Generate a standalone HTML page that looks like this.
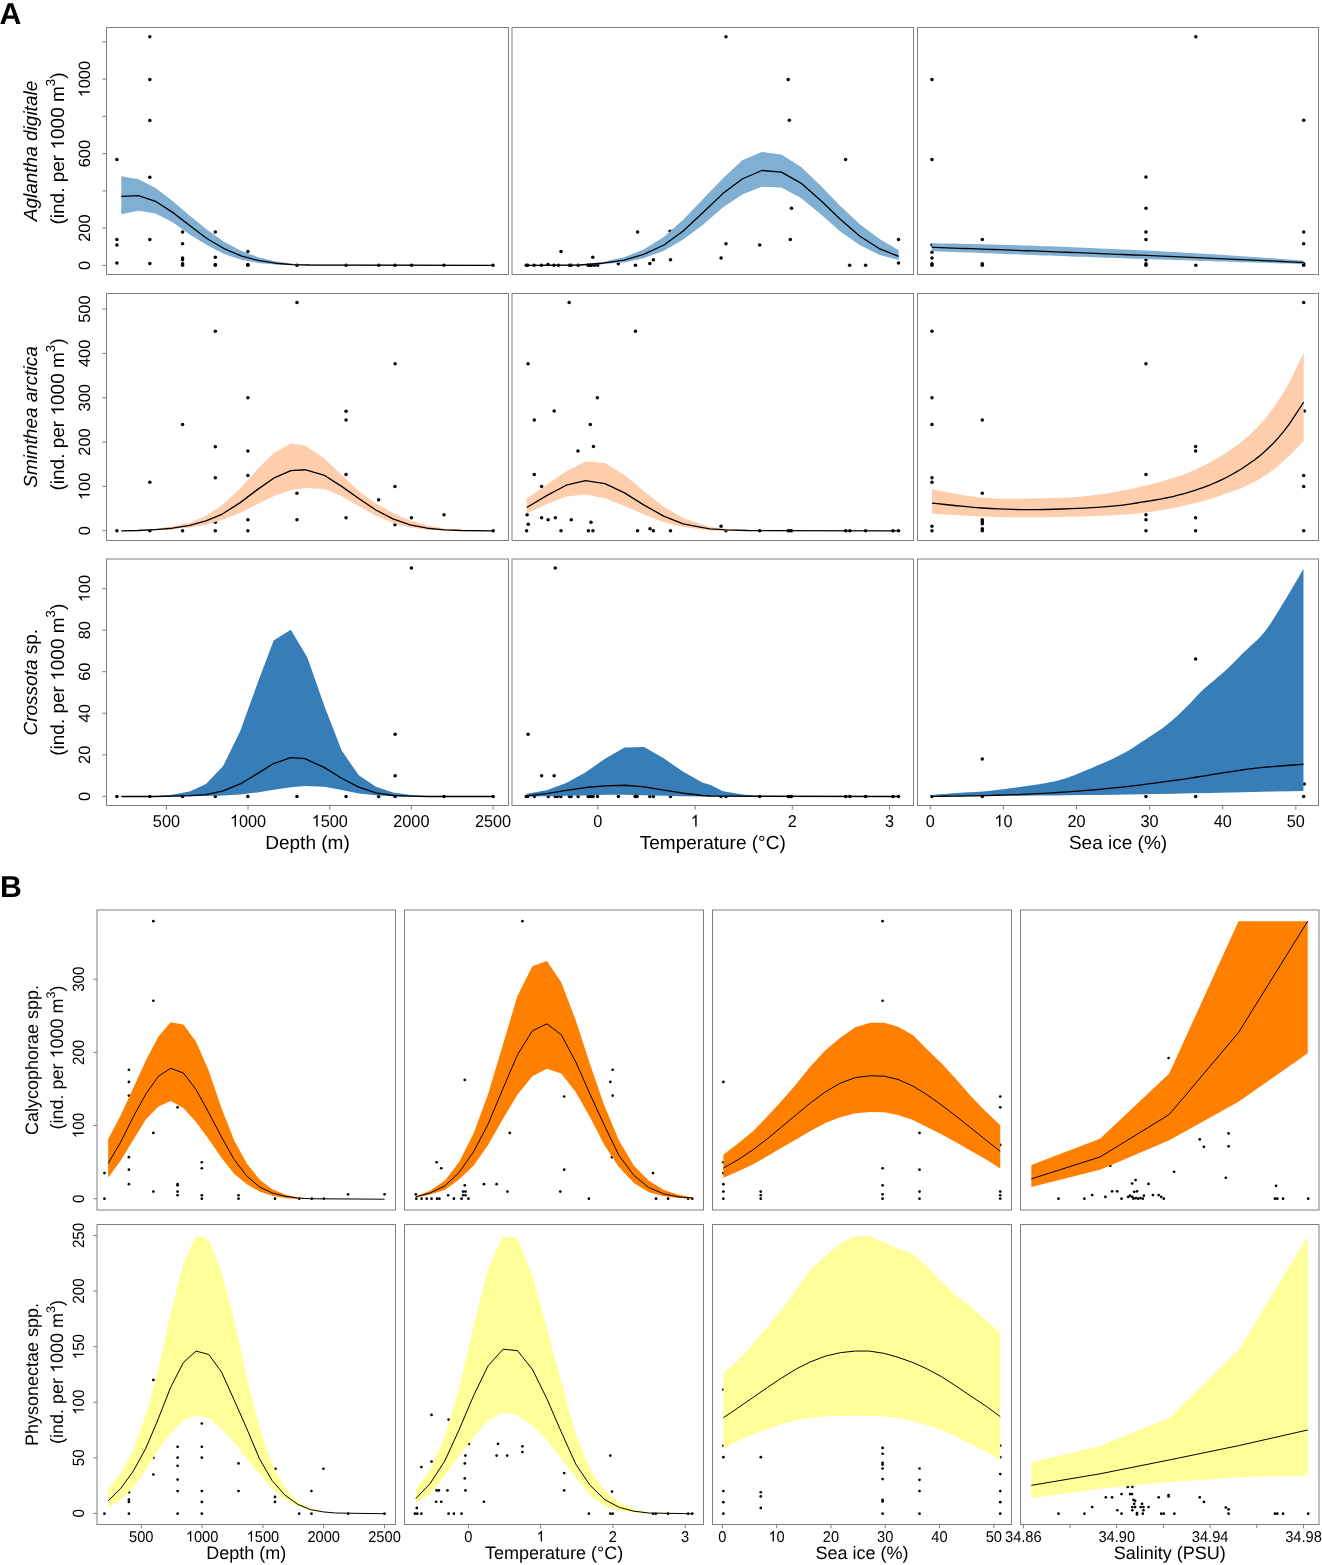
<!DOCTYPE html>
<html><head><meta charset="utf-8"><title>Figure</title>
<style>html,body{margin:0;padding:0;background:#fff;overflow:hidden;}svg{display:block;}text{font-family:"Liberation Sans",sans-serif;fill:#000;}svg{will-change:transform;text-rendering:geometricPrecision;}</style>
</head><body>
<svg width="1322" height="1565" viewBox="0 0 1322 1565">
<rect x="0" y="0" width="1322" height="1565" fill="#fff"/>
<clipPath id="cA11"><rect x="106.5" y="27.5" width="402" height="247"/></clipPath>
<g clip-path="url(#cA11)">
<circle cx="116.9" cy="159.43" r="1.75"/>
<circle cx="116.9" cy="239.44" r="1.75"/>
<circle cx="116.9" cy="244.98" r="1.75"/>
<circle cx="116.9" cy="263.06" r="1.75"/>
<circle cx="149.81" cy="36.73" r="1.75"/>
<circle cx="149.81" cy="79.59" r="1.75"/>
<circle cx="149.81" cy="120.49" r="1.75"/>
<circle cx="149.81" cy="177.19" r="1.75"/>
<circle cx="149.81" cy="239.44" r="1.75"/>
<circle cx="149.81" cy="263.55" r="1.75"/>
<circle cx="182.56" cy="231.94" r="1.75"/>
<circle cx="182.56" cy="243.84" r="1.75"/>
<circle cx="182.56" cy="258.01" r="1.75"/>
<circle cx="182.56" cy="259.64" r="1.75"/>
<circle cx="182.56" cy="263.72" r="1.75"/>
<circle cx="182.56" cy="265.35" r="1.75"/>
<circle cx="215.31" cy="231.94" r="1.75"/>
<circle cx="215.31" cy="257.36" r="1.75"/>
<circle cx="215.31" cy="264.53" r="1.75"/>
<circle cx="215.31" cy="265.35" r="1.75"/>
<circle cx="247.9" cy="251.5" r="1.75"/>
<circle cx="247.9" cy="264.53" r="1.75"/>
<circle cx="247.9" cy="265.35" r="1.75"/>
<circle cx="296.95" cy="265.35" r="1.75"/>
<circle cx="346.07" cy="265.29" r="1.75"/>
<circle cx="378.79" cy="265.29" r="1.75"/>
<circle cx="395" cy="265.29" r="1.75"/>
<circle cx="411.52" cy="265.29" r="1.75"/>
<circle cx="443.92" cy="265.29" r="1.75"/>
<circle cx="493.01" cy="265.29" r="1.75"/>
<polygon points="121.29,176.21 138.4,179.15 155.51,187.95 172.62,200.98 189.73,215.65 206.84,229.5 223.95,241.72 241.06,250.68 258.17,257.2 275.28,261.27 292.39,263.72 309.99,264.53 493,265.3 493,265.3 309.99,265.35 292.39,265.02 275.28,264.53 258.17,262.9 241.06,259.64 223.95,253.94 206.84,244.98 189.73,234.39 172.62,222.16 155.51,213.53 138.4,210.76 121.29,214.34" fill="#7FAFD3" stroke="none"/>
<polyline points="121.29,196.42 138.4,195.6 155.51,201.31 172.62,212.39 189.73,225.42 206.84,238.46 223.95,248.56 241.06,255.89 258.17,260.46 275.28,263.23 292.39,264.53 309.99,265.02 493,265.3" fill="none" stroke="#000" stroke-width="1.3" stroke-linejoin="round"/>
</g>
<clipPath id="cA12"><rect x="512" y="27.5" width="401.5" height="247"/></clipPath>
<g clip-path="url(#cA12)">
<circle cx="526.29" cy="265.35" r="1.75"/>
<circle cx="527.6" cy="265.35" r="1.75"/>
<circle cx="534.12" cy="265.35" r="1.75"/>
<circle cx="541.45" cy="265.35" r="1.75"/>
<circle cx="547.97" cy="264.53" r="1.75"/>
<circle cx="554" cy="265.35" r="1.75"/>
<circle cx="558.56" cy="265.35" r="1.75"/>
<circle cx="561" cy="251.5" r="1.75"/>
<circle cx="569.48" cy="265.35" r="1.75"/>
<circle cx="571.1" cy="265.35" r="1.75"/>
<circle cx="578.11" cy="265.35" r="1.75"/>
<circle cx="588.21" cy="265.35" r="1.75"/>
<circle cx="589.84" cy="265.35" r="1.75"/>
<circle cx="591.47" cy="265.35" r="1.75"/>
<circle cx="592.78" cy="257.2" r="1.75"/>
<circle cx="594.41" cy="265.35" r="1.75"/>
<circle cx="597.66" cy="265.35" r="1.75"/>
<circle cx="618.36" cy="263.72" r="1.75"/>
<circle cx="635.47" cy="265.35" r="1.75"/>
<circle cx="637.59" cy="231.94" r="1.75"/>
<circle cx="649.81" cy="263.39" r="1.75"/>
<circle cx="653.39" cy="259.64" r="1.75"/>
<circle cx="670.5" cy="259.64" r="1.75"/>
<circle cx="670.18" cy="231.13" r="1.75"/>
<circle cx="725.97" cy="36.73" r="1.75"/>
<circle cx="788.21" cy="79.59" r="1.75"/>
<circle cx="789.35" cy="120.32" r="1.75"/>
<circle cx="845.57" cy="159.43" r="1.75"/>
<circle cx="791.47" cy="208.31" r="1.75"/>
<circle cx="725.97" cy="243.84" r="1.75"/>
<circle cx="759.7" cy="244.98" r="1.75"/>
<circle cx="790.33" cy="239.44" r="1.75"/>
<circle cx="721.08" cy="258.01" r="1.75"/>
<circle cx="898.53" cy="239.44" r="1.75"/>
<circle cx="849.64" cy="265.35" r="1.75"/>
<circle cx="865.61" cy="265.35" r="1.75"/>
<circle cx="898.53" cy="262.9" r="1.75"/>
<polygon points="525.48,265.35 580.07,264.53 602.88,262.09 624.06,257.2 643.62,249.54 663.98,236.83 683.2,219.8 703,199.1 722.8,178.4 742.26,160.25 761.82,152.1 781.37,154.54 800.92,166.76 820.48,185.5 840.03,205.87 859.58,224.12 879.14,238.79 898.69,250.19 898.69,259.97 879.14,254.75 859.58,244.98 840.03,231.13 820.48,214.02 800.92,198.05 781.37,187.46 761.82,186.81 742.26,194.46 722.8,207.5 703,224.8 683.2,239.4 663.98,250.68 643.62,258.34 624.06,262.58 602.88,264.04 580.07,265.35 525.48,265.35" fill="#7FAFD3" stroke="none"/>
<polyline points="525.48,265.35 580.07,265.02 602.88,263.23 624.06,260.13 643.62,254.43 663.98,244.98 683.2,231 703,212.5 722.8,193.6 742.26,178.98 761.82,170.51 781.37,172.14 800.92,183.06 820.48,200.17 840.03,218.91 859.58,236.02 879.14,248.56 898.69,256.38" fill="none" stroke="#000" stroke-width="1.3" stroke-linejoin="round"/>
</g>
<clipPath id="cA13"><rect x="917.5" y="27.5" width="401" height="247"/></clipPath>
<g clip-path="url(#cA13)">
<circle cx="931.95" cy="79.59" r="1.75"/>
<circle cx="931.95" cy="159.43" r="1.75"/>
<circle cx="931.95" cy="244.98" r="1.75"/>
<circle cx="931.95" cy="252.31" r="1.75"/>
<circle cx="931.95" cy="258.01" r="1.75"/>
<circle cx="931.95" cy="263.72" r="1.75"/>
<circle cx="931.95" cy="265.35" r="1.75"/>
<circle cx="982.3" cy="239.44" r="1.75"/>
<circle cx="982.3" cy="263.72" r="1.75"/>
<circle cx="982.3" cy="265.35" r="1.75"/>
<circle cx="1195.82" cy="36.73" r="1.75"/>
<circle cx="1303.69" cy="120.32" r="1.75"/>
<circle cx="1145.96" cy="177.03" r="1.75"/>
<circle cx="1145.96" cy="208.31" r="1.75"/>
<circle cx="1145.96" cy="231.94" r="1.75"/>
<circle cx="1145.96" cy="239.44" r="1.75"/>
<circle cx="1145.96" cy="259.64" r="1.75"/>
<circle cx="1145.96" cy="263.72" r="1.75"/>
<circle cx="1145.96" cy="265.35" r="1.75"/>
<circle cx="1195.82" cy="265.35" r="1.75"/>
<circle cx="1303.69" cy="231.94" r="1.75"/>
<circle cx="1303.69" cy="243.84" r="1.75"/>
<circle cx="1303.69" cy="263.72" r="1.75"/>
<circle cx="1303.69" cy="265.35" r="1.75"/>
<polygon points="931.8,243.21 935.48,243.28 940.56,243.38 946.59,243.49 953.08,243.62 959.58,243.75 965.6,243.88 971.23,244.01 976.87,244.14 982.51,244.28 988.14,244.43 993.77,244.58 999.4,244.73 1005.02,244.89 1010.64,245.06 1016.25,245.23 1021.86,245.4 1027.48,245.58 1033.1,245.77 1038.73,245.96 1044.36,246.15 1049.99,246.35 1055.63,246.56 1061.27,246.77 1066.9,246.98 1072.53,247.2 1078.17,247.43 1083.8,247.66 1089.43,247.89 1095.07,248.13 1100.7,248.38 1106.33,248.63 1111.97,248.89 1117.6,249.15 1123.23,249.41 1128.87,249.68 1134.5,249.96 1140.13,250.24 1145.77,250.53 1151.4,250.82 1157.03,251.11 1162.67,251.41 1168.3,251.72 1173.93,252.03 1179.57,252.35 1185.21,252.67 1190.84,252.99 1196.47,253.32 1202.1,253.66 1207.72,254 1213.34,254.35 1218.95,254.7 1224.56,255.06 1230.18,255.42 1235.8,255.79 1241.43,256.16 1247.06,256.54 1252.69,256.92 1258.33,257.3 1263.97,257.69 1269.6,258.09 1275.62,258.52 1282.12,259 1288.61,259.48 1294.64,259.93 1299.72,260.31 1303.4,260.58 1303.4,264.05 1299.72,263.94 1294.64,263.79 1288.61,263.61 1282.12,263.41 1275.62,263.21 1269.6,263.03 1263.97,262.86 1258.33,262.68 1252.69,262.51 1247.06,262.33 1241.43,262.16 1235.8,261.98 1230.18,261.8 1224.56,261.62 1218.95,261.44 1213.34,261.26 1207.72,261.08 1202.1,260.9 1196.47,260.72 1190.84,260.53 1185.21,260.34 1179.57,260.16 1173.93,259.97 1168.3,259.78 1162.67,259.59 1157.03,259.4 1151.4,259.21 1145.77,259.02 1140.13,258.82 1134.5,258.63 1128.87,258.44 1123.23,258.24 1117.6,258.04 1111.97,257.85 1106.33,257.65 1100.7,257.45 1095.07,257.25 1089.43,257.05 1083.8,256.84 1078.17,256.64 1072.53,256.44 1066.9,256.23 1061.27,256.02 1055.63,255.82 1049.99,255.61 1044.36,255.4 1038.73,255.19 1033.1,254.98 1027.48,254.77 1021.86,254.56 1016.25,254.34 1010.64,254.13 1005.02,253.92 999.4,253.7 993.77,253.48 988.14,253.27 982.51,253.05 976.87,252.83 971.23,252.61 965.6,252.39 959.58,252.15 953.08,251.89 946.59,251.63 940.56,251.39 935.48,251.19 931.8,251.04" fill="#7FAFD3" stroke="none"/>
<polyline points="931.8,247.32 935.48,247.45 940.56,247.62 946.59,247.83 953.08,248.05 959.58,248.28 965.6,248.49 971.23,248.69 976.87,248.89 982.51,249.09 988.14,249.3 993.77,249.5 999.4,249.71 1005.02,249.92 1010.64,250.12 1016.25,250.33 1021.86,250.54 1027.48,250.75 1033.1,250.96 1038.73,251.17 1044.36,251.39 1049.99,251.6 1055.63,251.82 1061.27,252.04 1066.9,252.26 1072.53,252.48 1078.17,252.7 1083.8,252.93 1089.43,253.15 1095.07,253.37 1100.7,253.6 1106.33,253.83 1111.97,254.06 1117.6,254.28 1123.23,254.51 1128.87,254.75 1134.5,254.98 1140.13,255.22 1145.77,255.45 1151.4,255.69 1157.03,255.93 1162.67,256.17 1168.3,256.41 1173.93,256.65 1179.57,256.89 1185.21,257.13 1190.84,257.38 1196.47,257.62 1202.1,257.87 1207.72,258.12 1213.34,258.37 1218.95,258.62 1224.56,258.87 1230.18,259.13 1235.8,259.38 1241.43,259.64 1247.06,259.89 1252.69,260.15 1258.33,260.41 1263.97,260.67 1269.6,260.93 1275.62,261.21 1282.12,261.52 1288.61,261.82 1294.64,262.11 1299.72,262.35 1303.4,262.52" fill="none" stroke="#000" stroke-width="1.3" stroke-linejoin="round"/>
</g>
<clipPath id="cA21"><rect x="106.5" y="293.5" width="402" height="247"/></clipPath>
<g clip-path="url(#cA21)">
<circle cx="116.9" cy="530.83" r="1.75"/>
<circle cx="149.81" cy="530.83" r="1.75"/>
<circle cx="149.81" cy="482.28" r="1.75"/>
<circle cx="182.56" cy="530.83" r="1.75"/>
<circle cx="182.56" cy="424.43" r="1.75"/>
<circle cx="215.31" cy="331.23" r="1.75"/>
<circle cx="215.31" cy="446.75" r="1.75"/>
<circle cx="215.31" cy="477.71" r="1.75"/>
<circle cx="215.31" cy="522.2" r="1.75"/>
<circle cx="215.31" cy="530.83" r="1.75"/>
<circle cx="247.9" cy="397.71" r="1.75"/>
<circle cx="247.9" cy="450.99" r="1.75"/>
<circle cx="247.9" cy="475.43" r="1.75"/>
<circle cx="247.9" cy="519.75" r="1.75"/>
<circle cx="247.9" cy="530.83" r="1.75"/>
<circle cx="296.95" cy="302.38" r="1.75"/>
<circle cx="296.95" cy="493.19" r="1.75"/>
<circle cx="296.95" cy="519.75" r="1.75"/>
<circle cx="395.11" cy="363.65" r="1.75"/>
<circle cx="346.06" cy="411.23" r="1.75"/>
<circle cx="346.06" cy="420.03" r="1.75"/>
<circle cx="346.06" cy="474.62" r="1.75"/>
<circle cx="394.95" cy="486.51" r="1.75"/>
<circle cx="378.65" cy="499.87" r="1.75"/>
<circle cx="346.06" cy="517.64" r="1.75"/>
<circle cx="411.4" cy="517.64" r="1.75"/>
<circle cx="443.99" cy="514.87" r="1.75"/>
<circle cx="394.95" cy="524.64" r="1.75"/>
<circle cx="493.2" cy="530.83" r="1.75"/>
<polygon points="121.29,530.83 137.59,530.35 155.51,528.72 172.62,526.27 189.73,522.69 206.03,515.68 222.32,505.09 240.25,488.47 257.35,469.24 273.65,452.95 290.76,443.5 305,445.61 324.55,458.65 341.66,474.94 358.77,491.24 375.88,503.46 392.99,512.91 410.1,520.57 427.21,525.46 444.32,528.39 461.43,529.86 493.2,530.83 493.2,530.83 461.43,530.67 444.32,530.35 427.21,529.53 410.1,527.58 392.99,523.01 375.88,515.68 358.77,505.9 341.66,496.13 324.55,489.12 305,487.98 290.76,490.1 273.65,496.13 257.35,504.27 240.25,512.91 222.32,519.75 206.03,524.64 189.73,527.58 172.62,529.2 155.51,530.02 137.59,530.67 121.29,530.83" fill="#FDCDAC" stroke="none"/>
<polyline points="121.29,530.83 137.59,530.51 155.51,529.53 172.62,528.23 189.73,525.46 206.03,520.89 222.32,514.05 240.25,502.64 257.35,489.61 273.65,478.2 290.76,470.54 305,469.73 324.55,475.43 341.66,486.35 358.77,498.57 375.88,509.98 392.99,518.94 410.1,524.97 427.21,528.23 444.32,529.86 461.43,530.51 493.2,530.83" fill="none" stroke="#000" stroke-width="1.3" stroke-linejoin="round"/>
</g>
<clipPath id="cA22"><rect x="512" y="293.5" width="401.5" height="247"/></clipPath>
<g clip-path="url(#cA22)">
<circle cx="569.15" cy="302.38" r="1.75"/>
<circle cx="635.47" cy="331.23" r="1.75"/>
<circle cx="528.09" cy="363.65" r="1.75"/>
<circle cx="597.34" cy="397.71" r="1.75"/>
<circle cx="554.16" cy="411.07" r="1.75"/>
<circle cx="534.28" cy="420.03" r="1.75"/>
<circle cx="590.33" cy="424.43" r="1.75"/>
<circle cx="593.43" cy="446.59" r="1.75"/>
<circle cx="577.95" cy="450.99" r="1.75"/>
<circle cx="534.28" cy="474.62" r="1.75"/>
<circle cx="541.61" cy="486.51" r="1.75"/>
<circle cx="527.11" cy="514.87" r="1.75"/>
<circle cx="541.61" cy="517.64" r="1.75"/>
<circle cx="548.13" cy="519.75" r="1.75"/>
<circle cx="555.3" cy="517.64" r="1.75"/>
<circle cx="571.27" cy="519.75" r="1.75"/>
<circle cx="590.98" cy="522.2" r="1.75"/>
<circle cx="528.25" cy="524.32" r="1.75"/>
<circle cx="526.62" cy="530.83" r="1.75"/>
<circle cx="561" cy="530.83" r="1.75"/>
<circle cx="588.38" cy="530.83" r="1.75"/>
<circle cx="592.94" cy="530.83" r="1.75"/>
<circle cx="637.59" cy="530.83" r="1.75"/>
<circle cx="649.97" cy="528.72" r="1.75"/>
<circle cx="653.39" cy="530.83" r="1.75"/>
<circle cx="670.5" cy="530.83" r="1.75"/>
<circle cx="721.08" cy="526.27" r="1.75"/>
<circle cx="725.97" cy="530.83" r="1.75"/>
<circle cx="759.7" cy="530.83" r="1.75"/>
<circle cx="788.21" cy="530.83" r="1.75"/>
<circle cx="789.84" cy="530.83" r="1.75"/>
<circle cx="791.47" cy="530.83" r="1.75"/>
<circle cx="845.73" cy="530.83" r="1.75"/>
<circle cx="849.81" cy="530.83" r="1.75"/>
<circle cx="865.61" cy="530.83" r="1.75"/>
<circle cx="892.99" cy="530.83" r="1.75"/>
<circle cx="898.53" cy="530.83" r="1.75"/>
<polygon points="526.78,498.57 546.66,484.72 566.22,471.2 585.44,461.42 605,463.05 624.55,474.94 644.1,491.24 663.66,506.72 683.21,518.12 702.77,524.64 710,527.09 726.29,528.88 747.48,530.18 898.53,530.83 898.53,530.83 747.48,530.83 726.29,530.67 710,530.51 702.77,529.53 683.21,527.09 663.66,522.2 644.1,514.54 624.55,505.9 605,498.25 585.44,494.5 566.22,496.62 546.66,504.27 526.78,513.56" fill="#FDCDAC" stroke="none"/>
<polyline points="526.78,507.53 546.66,495.64 566.22,485.21 585.44,480.65 605,483.58 624.55,492.87 644.1,505.09 663.66,516.17 683.21,523.83 702.77,527.58 710,528.88 726.29,529.86 747.48,530.51 898.53,530.83" fill="none" stroke="#000" stroke-width="1.3" stroke-linejoin="round"/>
</g>
<clipPath id="cA23"><rect x="917.5" y="293.5" width="401" height="247"/></clipPath>
<g clip-path="url(#cA23)">
<circle cx="931.95" cy="331.23" r="1.75"/>
<circle cx="931.95" cy="397.71" r="1.75"/>
<circle cx="931.95" cy="424.43" r="1.75"/>
<circle cx="982.3" cy="420.03" r="1.75"/>
<circle cx="931.95" cy="477.71" r="1.75"/>
<circle cx="931.95" cy="482.28" r="1.75"/>
<circle cx="982.3" cy="493.19" r="1.75"/>
<circle cx="982.3" cy="519.75" r="1.75"/>
<circle cx="982.3" cy="521.71" r="1.75"/>
<circle cx="982.3" cy="523.83" r="1.75"/>
<circle cx="982.3" cy="528.72" r="1.75"/>
<circle cx="982.3" cy="530.83" r="1.75"/>
<circle cx="931.95" cy="526.27" r="1.75"/>
<circle cx="931.95" cy="530.83" r="1.75"/>
<circle cx="1303.69" cy="302.38" r="1.75"/>
<circle cx="1145.96" cy="363.65" r="1.75"/>
<circle cx="1195.66" cy="446.59" r="1.75"/>
<circle cx="1195.66" cy="450.99" r="1.75"/>
<circle cx="1304.34" cy="411.07" r="1.75"/>
<circle cx="1145.96" cy="474.62" r="1.75"/>
<circle cx="1303.69" cy="475.43" r="1.75"/>
<circle cx="1303.69" cy="486.51" r="1.75"/>
<circle cx="1145.96" cy="514.87" r="1.75"/>
<circle cx="1145.96" cy="519.75" r="1.75"/>
<circle cx="1195.66" cy="517.64" r="1.75"/>
<circle cx="1145.96" cy="530.83" r="1.75"/>
<circle cx="1195.66" cy="530.83" r="1.75"/>
<circle cx="1303.69" cy="530.83" r="1.75"/>
<polygon points="931.95,489.12 937.47,490.15 945.13,491.65 954.2,493.39 963.91,495.14 973.53,496.67 982.3,497.76 990.27,498.37 998.07,498.7 1005.77,498.81 1013.45,498.77 1021.19,498.67 1029.06,498.57 1037.22,498.48 1045.64,498.33 1054.11,498.11 1062.45,497.82 1070.46,497.43 1077.95,496.94 1084.88,496.33 1091.4,495.61 1097.59,494.8 1103.54,493.92 1109.31,493 1115,492.05 1120.63,491.05 1126.13,489.97 1131.47,488.85 1136.59,487.71 1141.44,486.59 1145.96,485.54 1150.07,484.55 1153.81,483.6 1157.26,482.68 1160.56,481.76 1163.82,480.82 1167.14,479.83 1170.5,478.82 1173.78,477.81 1177.02,476.78 1180.24,475.7 1183.46,474.55 1186.7,473.31 1189.96,471.99 1193.21,470.6 1196.47,469.14 1199.73,467.61 1202.99,466.02 1206.25,464.35 1209.51,462.63 1212.77,460.84 1216.03,458.99 1219.29,457.06 1222.54,455.05 1225.8,452.95 1229.06,450.79 1232.32,448.59 1235.58,446.31 1238.84,443.91 1242.1,441.35 1245.36,438.61 1248.62,435.7 1251.87,432.68 1255.13,429.5 1258.39,426.14 1261.65,422.56 1264.91,418.73 1268.17,414.69 1271.44,410.47 1274.71,406.03 1277.97,401.33 1281.22,396.35 1284.46,391.03 1287.91,384.81 1291.61,377.63 1295.3,370.15 1298.72,363.05 1301.6,357.02 1303.69,352.73 1303.69,441.21 1301.6,443.33 1298.72,446.29 1295.3,449.78 1291.61,453.48 1287.91,457.09 1284.46,460.28 1281.22,463.12 1277.97,465.89 1274.71,468.55 1271.44,471.09 1268.17,473.5 1264.91,475.76 1261.65,477.84 1258.39,479.77 1255.13,481.56 1251.87,483.24 1248.62,484.83 1245.36,486.35 1242.1,487.77 1238.84,489.07 1235.58,490.27 1232.32,491.42 1229.06,492.55 1225.8,493.68 1222.54,494.83 1219.29,495.98 1216.03,497.09 1212.77,498.18 1209.51,499.22 1206.25,500.2 1202.99,501.12 1199.73,501.98 1196.47,502.8 1193.21,503.58 1189.96,504.34 1186.7,505.09 1183.46,505.82 1180.24,506.54 1177.02,507.23 1173.78,507.9 1170.5,508.54 1167.14,509.16 1163.82,509.76 1160.56,510.33 1157.26,510.87 1153.81,511.4 1150.07,511.92 1145.96,512.42 1141.44,512.93 1136.59,513.44 1131.47,513.93 1126.13,514.39 1120.63,514.82 1115,515.19 1109.31,515.5 1103.54,515.75 1097.59,515.97 1091.4,516.15 1084.88,516.32 1077.95,516.5 1070.46,516.68 1062.45,516.86 1054.11,517.03 1045.64,517.18 1037.22,517.27 1029.06,517.31 1021.19,517.29 1013.45,517.24 1005.77,517.14 998.07,516.98 990.27,516.77 982.3,516.5 973.53,516.09 963.91,515.57 954.2,514.98 945.13,514.4 937.47,513.91 931.95,513.56" fill="#FDCDAC" stroke="none"/>
<polyline points="931.95,503.13 937.47,503.7 945.13,504.52 954.2,505.48 963.91,506.45 973.53,507.34 982.3,508.02 990.27,508.52 998.07,508.92 1005.77,509.22 1013.45,509.45 1021.19,509.59 1029.06,509.65 1037.22,509.62 1045.64,509.48 1054.11,509.25 1062.45,508.98 1070.46,508.66 1077.95,508.35 1084.88,508.03 1091.4,507.69 1097.59,507.32 1103.54,506.91 1109.31,506.44 1115,505.9 1120.63,505.28 1126.13,504.56 1131.47,503.79 1136.59,502.99 1141.44,502.22 1145.96,501.5 1150.07,500.85 1153.81,500.25 1157.26,499.66 1160.56,499.07 1163.82,498.44 1167.14,497.76 1170.5,497.03 1173.78,496.27 1177.02,495.49 1180.24,494.66 1183.46,493.79 1186.7,492.87 1189.96,491.9 1193.21,490.89 1196.47,489.84 1199.73,488.74 1202.99,487.58 1206.25,486.35 1209.51,485.07 1212.77,483.73 1216.03,482.34 1219.29,480.88 1222.54,479.34 1225.8,477.71 1229.06,476.01 1232.32,474.25 1235.58,472.41 1238.84,470.48 1242.1,468.45 1245.36,466.31 1248.62,464.08 1251.87,461.79 1255.13,459.4 1258.39,456.88 1261.65,454.2 1264.91,451.32 1268.17,448.27 1271.44,445.08 1274.71,441.72 1277.97,438.18 1281.22,434.44 1284.46,430.46 1287.91,425.84 1291.61,420.51 1295.3,414.98 1298.72,409.74 1301.6,405.28 1303.69,402.11" fill="none" stroke="#000" stroke-width="1.3" stroke-linejoin="round"/>
</g>
<clipPath id="cA31"><rect x="106.5" y="559" width="402" height="246.5"/></clipPath>
<g clip-path="url(#cA31)">
<circle cx="116.9" cy="796.49" r="1.75"/>
<circle cx="149.81" cy="796.49" r="1.75"/>
<circle cx="182.56" cy="796.49" r="1.75"/>
<circle cx="215.31" cy="796.49" r="1.75"/>
<circle cx="247.9" cy="796.49" r="1.75"/>
<circle cx="296.95" cy="796.49" r="1.75"/>
<circle cx="411.4" cy="568.04" r="1.75"/>
<circle cx="395.11" cy="734.24" r="1.75"/>
<circle cx="395.11" cy="775.79" r="1.75"/>
<circle cx="346.06" cy="796.49" r="1.75"/>
<circle cx="378.65" cy="796.49" r="1.75"/>
<circle cx="395.11" cy="796.49" r="1.75"/>
<circle cx="443.99" cy="796.49" r="1.75"/>
<circle cx="493.2" cy="796.49" r="1.75"/>
<polygon points="121.29,796.49 153.88,796.16 171.81,794.86 189.73,791.6 206.03,783.94 223.14,766.02 240.25,730.98 257.35,683.73 273.65,640.55 290.76,629.63 305,653.58 307.44,657.66 324.55,706.54 341.66,750.54 358.77,775.3 375.88,786.71 392.99,792.41 410.1,795.02 427.21,796 493.2,796.49 493.2,796.49 410.1,796.49 392.99,796.16 375.88,795.35 358.77,793.39 341.66,789.97 324.55,786.71 305,786.06 290.76,787.36 273.65,789.64 257.35,792.41 240.25,794.53 223.14,795.51 206.03,796 189.73,796.32 171.81,796.49 153.88,796.49 121.29,796.49" fill="#377EB8" stroke="none"/>
<polyline points="121.29,796.49 153.88,796.49 171.81,796.16 189.73,795.67 206.03,794.53 223.14,790.78 240.25,783.94 257.35,773.67 273.65,763.57 290.76,757.54 305,758.68 324.55,767.64 341.66,778.24 358.77,787.2 375.88,792.9 392.99,795.51 410.1,796.16 427.21,796.49 493.2,796.49" fill="none" stroke="#000" stroke-width="1.3" stroke-linejoin="round"/>
</g>
<clipPath id="cA32"><rect x="512" y="559" width="401.5" height="246.5"/></clipPath>
<g clip-path="url(#cA32)">
<circle cx="555.3" cy="568.04" r="1.75"/>
<circle cx="528.09" cy="734.24" r="1.75"/>
<circle cx="541.61" cy="775.79" r="1.75"/>
<circle cx="554.16" cy="775.79" r="1.75"/>
<circle cx="526.29" cy="796.49" r="1.75"/>
<circle cx="527.6" cy="796.49" r="1.75"/>
<circle cx="534.44" cy="796.49" r="1.75"/>
<circle cx="548.29" cy="796.49" r="1.75"/>
<circle cx="555.3" cy="796.49" r="1.75"/>
<circle cx="557.25" cy="796.49" r="1.75"/>
<circle cx="560.84" cy="796.49" r="1.75"/>
<circle cx="569.48" cy="796.49" r="1.75"/>
<circle cx="571.1" cy="796.49" r="1.75"/>
<circle cx="578.11" cy="796.49" r="1.75"/>
<circle cx="588.21" cy="796.49" r="1.75"/>
<circle cx="589.84" cy="796.49" r="1.75"/>
<circle cx="591.47" cy="796.49" r="1.75"/>
<circle cx="593.1" cy="796.49" r="1.75"/>
<circle cx="597.5" cy="796.49" r="1.75"/>
<circle cx="618.36" cy="796.49" r="1.75"/>
<circle cx="635.14" cy="796.49" r="1.75"/>
<circle cx="637.1" cy="796.49" r="1.75"/>
<circle cx="649.81" cy="796.49" r="1.75"/>
<circle cx="653.39" cy="796.49" r="1.75"/>
<circle cx="670.5" cy="796.49" r="1.75"/>
<circle cx="721.08" cy="796.49" r="1.75"/>
<circle cx="725.97" cy="796.49" r="1.75"/>
<circle cx="759.7" cy="796.49" r="1.75"/>
<circle cx="788.21" cy="796.49" r="1.75"/>
<circle cx="789.84" cy="796.49" r="1.75"/>
<circle cx="791.47" cy="796.49" r="1.75"/>
<circle cx="845.73" cy="796.49" r="1.75"/>
<circle cx="849.81" cy="796.49" r="1.75"/>
<circle cx="865.61" cy="796.49" r="1.75"/>
<circle cx="892.99" cy="796.49" r="1.75"/>
<circle cx="898.53" cy="796.49" r="1.75"/>
<polygon points="526.78,793.72 546.66,790.13 566.22,783.12 585.44,772.53 605,758.68 624.55,747.6 644.1,746.95 663.66,758.36 683.21,771.72 702.77,782.8 710,784.75 723.04,791.27 742.59,794.53 763.77,796.16 898.53,796.49 898.53,796.49 710,796.49 702.77,796.49 683.21,796.16 663.66,795.67 644.1,795.18 624.55,794.86 605,794.86 585.44,795.51 566.22,795.83 546.66,796.16 526.78,796.49" fill="#377EB8" stroke="none"/>
<polyline points="526.78,795.83 546.66,793.72 566.22,790.46 585.44,787.52 605,785.89 624.55,785.24 644.1,786.87 663.66,790.13 683.21,793.23 702.77,795.51 710,796 726.29,796.16 898.53,796.49" fill="none" stroke="#000" stroke-width="1.3" stroke-linejoin="round"/>
</g>
<clipPath id="cA33"><rect x="917.5" y="559" width="401" height="246.5"/></clipPath>
<g clip-path="url(#cA33)">
<circle cx="982.3" cy="759.01" r="1.75"/>
<circle cx="931.95" cy="796.49" r="1.75"/>
<circle cx="982.3" cy="796.49" r="1.75"/>
<circle cx="1195.66" cy="658.96" r="1.75"/>
<circle cx="1145.96" cy="796.49" r="1.75"/>
<circle cx="1195.66" cy="796.49" r="1.75"/>
<circle cx="1303.69" cy="796.49" r="1.75"/>
<circle cx="1304.34" cy="783.94" r="1.75"/>
<polygon points="931.85,794.89 935.11,794.65 939.68,794.3 945.06,793.89 950.74,793.47 956.21,793.07 960.96,792.75 964.94,792.51 968.56,792.33 971.97,792.17 975.31,792.01 978.74,791.8 982.4,791.52 986.35,791.15 990.46,790.73 994.66,790.26 998.86,789.76 1002.97,789.26 1006.91,788.76 1010.66,788.27 1014.29,787.78 1017.83,787.27 1021.32,786.75 1024.82,786.23 1028.36,785.7 1031.97,785.17 1035.62,784.65 1039.27,784.13 1042.88,783.58 1046.41,782.98 1049.8,782.33 1053.04,781.63 1056.16,780.9 1059.19,780.13 1062.17,779.3 1065.16,778.4 1068.19,777.43 1071.21,776.36 1074.2,775.23 1077.19,774.02 1080.21,772.75 1083.33,771.43 1086.57,770.07 1090,768.65 1093.6,767.15 1097.29,765.59 1100.98,764.01 1104.58,762.44 1108.01,760.88 1111.22,759.4 1114.26,757.99 1117.21,756.57 1120.16,755.1 1123.19,753.49 1126.4,751.69 1129.83,749.65 1133.43,747.39 1137.12,745.01 1140.81,742.58 1144.41,740.18 1147.84,737.9 1151.08,735.79 1154.2,733.77 1157.23,731.8 1160.21,729.78 1163.2,727.65 1166.23,725.34 1169.29,722.84 1172.35,720.21 1175.42,717.47 1178.48,714.64 1181.54,711.74 1184.61,708.8 1187.64,705.77 1190.62,702.63 1193.61,699.42 1196.64,696.18 1199.75,692.96 1202.99,689.8 1206.4,686.72 1209.97,683.68 1213.62,680.65 1217.29,677.62 1220.92,674.55 1224.44,671.42 1227.84,668.22 1231.19,664.98 1234.49,661.69 1237.77,658.4 1241.05,655.1 1244.35,651.81 1247.69,648.65 1251.05,645.6 1254.4,642.55 1257.74,639.38 1261.03,635.97 1264.26,632.21 1267.39,628.09 1270.41,623.71 1273.4,619.09 1276.39,614.25 1279.46,609.22 1282.65,604.02 1286.22,598.15 1290.18,591.49 1294.21,584.64 1297.99,578.18 1301.19,572.7 1303.48,568.79 1303.48,790.91 1290.97,791.18 1273.48,791.58 1252.85,792.04 1230.95,792.52 1209.63,792.97 1190.74,793.36 1174.21,793.67 1158.55,793.96 1143.48,794.22 1128.69,794.46 1113.9,794.68 1098.82,794.89 1083.31,795.08 1067.56,795.25 1051.81,795.41 1036.3,795.55 1021.26,795.68 1006.91,795.81 992.56,795.94 977.86,796.06 963.64,796.17 950.69,796.27 939.82,796.36 931.85,796.42" fill="#377EB8" stroke="none"/>
<polyline points="931.85,796.42 936.84,796.36 943.88,796.27 952.15,796.17 960.84,796.06 969.15,795.94 976.27,795.81 982.18,795.68 987.51,795.54 992.45,795.39 997.21,795.23 1001.97,795.06 1006.91,794.89 1012.02,794.71 1017.12,794.53 1022.23,794.33 1027.34,794.13 1032.44,793.91 1037.55,793.66 1042.66,793.4 1047.76,793.12 1052.87,792.82 1057.97,792.51 1063.08,792.17 1068.19,791.83 1073.29,791.46 1078.4,791.08 1083.5,790.68 1088.61,790.26 1093.72,789.83 1098.82,789.38 1103.93,788.91 1109.04,788.43 1114.14,787.94 1119.25,787.42 1124.35,786.88 1129.46,786.31 1134.57,785.7 1139.67,785.06 1144.78,784.4 1149.89,783.71 1154.99,783.02 1160.1,782.33 1165.2,781.64 1170.31,780.94 1175.42,780.24 1180.52,779.53 1185.63,778.79 1190.74,778.04 1195.91,777.24 1201.17,776.41 1206.44,775.55 1211.61,774.7 1216.62,773.89 1221.37,773.14 1225.85,772.44 1230.11,771.78 1234.2,771.15 1238.17,770.55 1242.05,769.99 1245.88,769.46 1249.46,768.98 1252.71,768.56 1255.88,768.18 1259.2,767.8 1262.94,767.42 1267.33,767.01 1272.92,766.54 1279.63,766.01 1286.74,765.48 1293.56,764.98 1299.38,764.56 1303.48,764.25" fill="none" stroke="#000" stroke-width="1.3" stroke-linejoin="round"/>
</g>
<clipPath id="cB11"><rect x="97" y="910" width="298.5" height="300"/></clipPath>
<g clip-path="url(#cB11)">
<circle cx="153.38" cy="921.15" r="1.35"/>
<circle cx="153.38" cy="1000.75" r="1.35"/>
<circle cx="128.92" cy="1069.74" r="1.35"/>
<circle cx="128.92" cy="1081.97" r="1.35"/>
<circle cx="128.92" cy="1095.59" r="1.35"/>
<circle cx="177.6" cy="1107.35" r="1.35"/>
<circle cx="153.38" cy="1132.96" r="1.35"/>
<circle cx="128.92" cy="1157.19" r="1.35"/>
<circle cx="128.92" cy="1169.65" r="1.35"/>
<circle cx="128.92" cy="1184.19" r="1.35"/>
<circle cx="104.46" cy="1173.11" r="1.35"/>
<circle cx="153.38" cy="1191.57" r="1.35"/>
<circle cx="177.6" cy="1184.19" r="1.35"/>
<circle cx="177.6" cy="1185.34" r="1.35"/>
<circle cx="177.6" cy="1191.57" r="1.35"/>
<circle cx="177.6" cy="1195.26" r="1.35"/>
<circle cx="201.83" cy="1162.27" r="1.35"/>
<circle cx="201.83" cy="1168.27" r="1.35"/>
<circle cx="201.83" cy="1195.26" r="1.35"/>
<circle cx="201.83" cy="1198.72" r="1.35"/>
<circle cx="238.52" cy="1195.26" r="1.35"/>
<circle cx="238.52" cy="1198.72" r="1.35"/>
<circle cx="274.97" cy="1198.72" r="1.35"/>
<circle cx="299.2" cy="1198.72" r="1.35"/>
<circle cx="311.89" cy="1198.72" r="1.35"/>
<circle cx="323.89" cy="1198.72" r="1.35"/>
<circle cx="348.11" cy="1194.34" r="1.35"/>
<circle cx="384.57" cy="1194.34" r="1.35"/>
<circle cx="104.46" cy="1198.72" r="1.35"/>
<polygon points="108.15,1139.19 120.38,1116.12 133.07,1088.43 145.76,1060.75 158.45,1036.52 170.68,1022.21 183.37,1024.52 196.06,1041.83 208.75,1070.67 221.44,1108.05 234.13,1140.35 246.82,1163.42 259.51,1179.57 272.2,1189.26 284.89,1194.57 297.58,1197.57 310.27,1198.72 384.57,1199.19 384.57,1199.19 297.58,1198.95 284.89,1198.03 272.2,1195.72 259.51,1191.57 246.82,1184.19 234.13,1173.8 221.44,1157.65 208.75,1139.19 196.06,1121.89 183.37,1108.05 170.68,1101.12 158.45,1106.43 145.76,1119.58 133.07,1140.35 120.38,1161.11 108.15,1177.73" fill="#FF7F00" stroke="none"/>
<polyline points="108.15,1163.42 120.38,1142.66 133.07,1117.28 145.76,1094.2 158.45,1076.2 170.68,1068.36 183.37,1072.97 196.06,1089.59 208.75,1112.66 221.44,1136.89 234.13,1159.5 246.82,1176.11 259.51,1186.96 272.2,1192.96 284.89,1196.19 297.58,1198.03 310.27,1198.72 384.57,1199.19" fill="none" stroke="#000" stroke-width="1.0" stroke-linejoin="round"/>
</g>
<clipPath id="cB12"><rect x="404.5" y="910" width="299" height="300"/></clipPath>
<g clip-path="url(#cB12)">
<circle cx="522.44" cy="921.15" r="1.35"/>
<circle cx="464.76" cy="1079.9" r="1.35"/>
<circle cx="436.61" cy="1162.27" r="1.35"/>
<circle cx="441.22" cy="1168.27" r="1.35"/>
<circle cx="509.75" cy="1132.96" r="1.35"/>
<circle cx="564.21" cy="1096.51" r="1.35"/>
<circle cx="612.66" cy="1069.74" r="1.35"/>
<circle cx="610.35" cy="1081.97" r="1.35"/>
<circle cx="612.66" cy="1095.59" r="1.35"/>
<circle cx="611.97" cy="1157.19" r="1.35"/>
<circle cx="564.21" cy="1169.65" r="1.35"/>
<circle cx="653.04" cy="1173.11" r="1.35"/>
<circle cx="483.91" cy="1184.19" r="1.35"/>
<circle cx="496.6" cy="1184.19" r="1.35"/>
<circle cx="464.76" cy="1185.34" r="1.35"/>
<circle cx="463.14" cy="1191.57" r="1.35"/>
<circle cx="465.45" cy="1191.57" r="1.35"/>
<circle cx="507.45" cy="1191.57" r="1.35"/>
<circle cx="560.28" cy="1191.57" r="1.35"/>
<circle cx="448.15" cy="1195.26" r="1.35"/>
<circle cx="463.14" cy="1195.26" r="1.35"/>
<circle cx="465.45" cy="1195.26" r="1.35"/>
<circle cx="415.84" cy="1194.34" r="1.35"/>
<circle cx="416.31" cy="1198.72" r="1.35"/>
<circle cx="421.61" cy="1198.72" r="1.35"/>
<circle cx="426.69" cy="1198.72" r="1.35"/>
<circle cx="431.53" cy="1198.72" r="1.35"/>
<circle cx="437.07" cy="1198.72" r="1.35"/>
<circle cx="439.38" cy="1198.72" r="1.35"/>
<circle cx="453.92" cy="1198.72" r="1.35"/>
<circle cx="461.53" cy="1198.72" r="1.35"/>
<circle cx="468.45" cy="1198.72" r="1.35"/>
<circle cx="588.89" cy="1198.72" r="1.35"/>
<circle cx="656.04" cy="1198.72" r="1.35"/>
<circle cx="668.04" cy="1198.72" r="1.35"/>
<circle cx="688.11" cy="1198.72" r="1.35"/>
<circle cx="692.26" cy="1198.72" r="1.35"/>
<polygon points="415.84,1196.19 430.15,1190.65 444.69,1180.73 458.99,1162.27 473.53,1133.43 488.06,1094.2 502.6,1045.75 517.37,996.14 532.36,966.14 546.9,961.07 561.21,982.3 575.74,1020.37 590.05,1064.21 604.35,1105.74 618.89,1140.35 633.89,1165.73 648.89,1180.73 663.88,1189.96 678.42,1194.8 692.26,1197.57 692.26,1198.72 678.42,1198.03 663.88,1196.19 648.89,1192.26 633.89,1183.03 618.89,1166.88 604.35,1144.96 590.05,1117.28 575.74,1091.89 561.21,1073.44 546.9,1068.82 532.36,1076.2 517.37,1094.66 502.6,1119.58 488.06,1144.96 473.53,1165.73 458.99,1179.57 444.69,1189.96 430.15,1194.57 415.84,1197.57" fill="#FF7F00" stroke="none"/>
<polyline points="415.84,1196.88 430.15,1192.96 444.69,1186.03 458.99,1172.65 473.53,1151.89 488.06,1124.2 502.6,1089.59 517.37,1054.98 532.36,1030.75 546.9,1023.83 561.21,1034.67 575.74,1061.9 590.05,1094.2 604.35,1125.35 618.89,1155.35 633.89,1175.42 648.89,1187.65 663.88,1193.88 678.42,1196.88 692.26,1198.03" fill="none" stroke="#000" stroke-width="1.0" stroke-linejoin="round"/>
</g>
<clipPath id="cB13"><rect x="712.5" y="910" width="299" height="300"/></clipPath>
<g clip-path="url(#cB13)">
<circle cx="882.59" cy="921.15" r="1.35"/>
<circle cx="882.59" cy="1000.75" r="1.35"/>
<circle cx="723.38" cy="1081.97" r="1.35"/>
<circle cx="1000.26" cy="1096.51" r="1.35"/>
<circle cx="1000.26" cy="1107.35" r="1.35"/>
<circle cx="919.51" cy="1132.96" r="1.35"/>
<circle cx="1000.26" cy="1144.96" r="1.35"/>
<circle cx="723.38" cy="1162.27" r="1.35"/>
<circle cx="723.38" cy="1173.11" r="1.35"/>
<circle cx="882.59" cy="1168.27" r="1.35"/>
<circle cx="919.51" cy="1169.65" r="1.35"/>
<circle cx="723.38" cy="1184.19" r="1.35"/>
<circle cx="882.59" cy="1185.34" r="1.35"/>
<circle cx="723.38" cy="1191.57" r="1.35"/>
<circle cx="760.76" cy="1191.57" r="1.35"/>
<circle cx="882.59" cy="1194.34" r="1.35"/>
<circle cx="919.51" cy="1191.57" r="1.35"/>
<circle cx="1000.26" cy="1191.57" r="1.35"/>
<circle cx="723.38" cy="1198.72" r="1.35"/>
<circle cx="760.76" cy="1195.26" r="1.35"/>
<circle cx="760.76" cy="1198.72" r="1.35"/>
<circle cx="882.59" cy="1198.72" r="1.35"/>
<circle cx="919.51" cy="1198.72" r="1.35"/>
<circle cx="1000.26" cy="1195.26" r="1.35"/>
<circle cx="1000.26" cy="1198.72" r="1.35"/>
<circle cx="760.76" cy="1157.88" r="1.35"/>
<polygon points="723.38,1154.65 737.69,1143.81 752.69,1131.58 767.68,1116.12 781.53,1101.12 796.53,1083.82 810.37,1066.51 825.37,1050.36 840.36,1037.67 855.36,1027.29 870.36,1022.67 884.2,1022.67 898.05,1026.83 913.05,1035.36 926.89,1049.21 941.89,1063.74 956.89,1079.9 970.73,1096.05 985.73,1111.51 1000.26,1125.35 1000.26,1168.5 985.73,1159.27 970.73,1150.73 956.89,1142.66 941.89,1134.58 926.89,1126.97 913.05,1120.04 898.05,1114.97 884.2,1112.2 870.36,1111.97 855.36,1113.35 840.36,1117.28 825.37,1123.04 810.37,1131.12 796.53,1139.19 781.53,1147.73 767.68,1156.04 752.69,1164.58 737.69,1171.5 723.38,1177.73" fill="#FF7F00" stroke="none"/>
<polyline points="723.38,1168.04 737.69,1159.96 752.69,1150.04 767.68,1138.5 781.53,1126.97 796.53,1114.51 810.37,1102.97 825.37,1091.89 840.36,1083.13 855.36,1077.59 870.36,1075.74 884.2,1076.2 898.05,1079.43 913.05,1086.13 926.89,1094.66 941.89,1105.28 956.89,1116.81 970.73,1127.89 985.73,1139.89 1000.26,1151.42" fill="none" stroke="#000" stroke-width="1.0" stroke-linejoin="round"/>
</g>
<clipPath id="cB14"><rect x="1020.5" y="910" width="298.5" height="300"/></clipPath>
<g clip-path="url(#cB14)">
<circle cx="1168.59" cy="1057.98" r="1.35"/>
<circle cx="1228.58" cy="1133.43" r="1.35"/>
<circle cx="1199.74" cy="1139.43" r="1.35"/>
<circle cx="1203.89" cy="1146.81" r="1.35"/>
<circle cx="1228.58" cy="1146.35" r="1.35"/>
<circle cx="1110.22" cy="1165.73" r="1.35"/>
<circle cx="1174.13" cy="1171.73" r="1.35"/>
<circle cx="1225.81" cy="1177.73" r="1.35"/>
<circle cx="1135.6" cy="1180.03" r="1.35"/>
<circle cx="1132.14" cy="1183.5" r="1.35"/>
<circle cx="1148.52" cy="1183.96" r="1.35"/>
<circle cx="1276.11" cy="1185.8" r="1.35"/>
<circle cx="1112.06" cy="1191.34" r="1.35"/>
<circle cx="1117.14" cy="1191.34" r="1.35"/>
<circle cx="1134.21" cy="1191.8" r="1.35"/>
<circle cx="1136.98" cy="1191.34" r="1.35"/>
<circle cx="1092.22" cy="1195.03" r="1.35"/>
<circle cx="1105.37" cy="1196.88" r="1.35"/>
<circle cx="1128.21" cy="1196.88" r="1.35"/>
<circle cx="1130.06" cy="1195.72" r="1.35"/>
<circle cx="1132.37" cy="1196.88" r="1.35"/>
<circle cx="1133.52" cy="1198.72" r="1.35"/>
<circle cx="1135.83" cy="1198.03" r="1.35"/>
<circle cx="1138.14" cy="1198.72" r="1.35"/>
<circle cx="1140.44" cy="1198.03" r="1.35"/>
<circle cx="1142.75" cy="1198.72" r="1.35"/>
<circle cx="1143.9" cy="1195.72" r="1.35"/>
<circle cx="1152.9" cy="1195.03" r="1.35"/>
<circle cx="1158.67" cy="1195.03" r="1.35"/>
<circle cx="1161.21" cy="1196.88" r="1.35"/>
<circle cx="1163.75" cy="1198.72" r="1.35"/>
<circle cx="1058.53" cy="1198.72" r="1.35"/>
<circle cx="1084.37" cy="1198.72" r="1.35"/>
<circle cx="1121.52" cy="1198.72" r="1.35"/>
<circle cx="1274.96" cy="1198.72" r="1.35"/>
<circle cx="1277.27" cy="1198.72" r="1.35"/>
<circle cx="1283.04" cy="1198.72" r="1.35"/>
<circle cx="1308.19" cy="1198.72" r="1.35"/>
<polygon points="1031.31,1165.04 1100.06,1138.73 1169.28,1073.44 1238.5,921.15 1307.72,921.15 1307.72,1053.36 1238.5,1101.82 1169.28,1140.35 1100.06,1169.65 1031.31,1186.96" fill="#FF7F00" stroke="none"/>
<polyline points="1031.31,1178.88 1100.06,1156.96 1169.28,1114.51 1238.5,1032.6 1307.72,921.15" fill="none" stroke="#000" stroke-width="1.0" stroke-linejoin="round"/>
</g>
<clipPath id="cB21"><rect x="97" y="1224.5" width="298.5" height="300"/></clipPath>
<g clip-path="url(#cB21)">
<circle cx="153.38" cy="1379.9" r="1.35"/>
<circle cx="201.83" cy="1423.51" r="1.35"/>
<circle cx="177.6" cy="1446.81" r="1.35"/>
<circle cx="201.83" cy="1446.81" r="1.35"/>
<circle cx="153.38" cy="1457.66" r="1.35"/>
<circle cx="177.6" cy="1457.66" r="1.35"/>
<circle cx="201.83" cy="1457.66" r="1.35"/>
<circle cx="177.6" cy="1465.73" r="1.35"/>
<circle cx="238.52" cy="1463.42" r="1.35"/>
<circle cx="275.43" cy="1468.73" r="1.35"/>
<circle cx="323.43" cy="1468.73" r="1.35"/>
<circle cx="153.38" cy="1474.5" r="1.35"/>
<circle cx="177.6" cy="1479.58" r="1.35"/>
<circle cx="128.92" cy="1492.27" r="1.35"/>
<circle cx="177.6" cy="1491.11" r="1.35"/>
<circle cx="201.83" cy="1491.11" r="1.35"/>
<circle cx="238.52" cy="1491.11" r="1.35"/>
<circle cx="311.43" cy="1491.11" r="1.35"/>
<circle cx="128.92" cy="1499.65" r="1.35"/>
<circle cx="128.92" cy="1501.96" r="1.35"/>
<circle cx="201.83" cy="1501.96" r="1.35"/>
<circle cx="274.97" cy="1496.88" r="1.35"/>
<circle cx="274.97" cy="1501.96" r="1.35"/>
<circle cx="104.46" cy="1513.72" r="1.35"/>
<circle cx="128.92" cy="1513.72" r="1.35"/>
<circle cx="177.6" cy="1513.72" r="1.35"/>
<circle cx="201.83" cy="1513.72" r="1.35"/>
<circle cx="299.2" cy="1513.72" r="1.35"/>
<circle cx="311.43" cy="1513.72" r="1.35"/>
<circle cx="348.11" cy="1513.72" r="1.35"/>
<circle cx="384.57" cy="1513.72" r="1.35"/>
<polygon points="108.15,1488.8 120.38,1473.35 133.07,1450.73 145.76,1414.97 158.45,1367.67 170.68,1312.29 183.37,1263.84 196.06,1235.69 208.75,1239.61 221.44,1271.92 234.13,1319.22 246.82,1376.9 259.51,1427.66 272.2,1464.58 284.89,1487.65 297.58,1501.5 310.27,1507.96 322.96,1511.19 335.66,1513.03 384.57,1513.72 384.57,1513.72 335.66,1513.26 322.96,1512.11 310.27,1510.26 297.58,1506.11 284.89,1499.19 272.2,1488.8 259.51,1473.81 246.82,1458.81 234.13,1442.66 221.44,1428.81 208.75,1417.97 196.06,1415.66 183.37,1420.28 170.68,1433.43 158.45,1449.58 145.76,1470.35 133.07,1487.65 120.38,1500.34 108.15,1507.26" fill="#FFFF99" stroke="none"/>
<polyline points="108.15,1500.8 120.38,1488.8 133.07,1471.5 145.76,1448.43 158.45,1418.43 170.68,1387.28 183.37,1362.59 196.06,1351.06 208.75,1354.52 221.44,1371.82 234.13,1399.97 246.82,1428.81 259.51,1458.81 272.2,1480.73 284.89,1495.03 297.58,1504.26 310.27,1509.57 322.96,1511.88 335.66,1513.03 384.57,1513.72" fill="none" stroke="#000" stroke-width="1.0" stroke-linejoin="round"/>
</g>
<clipPath id="cB22"><rect x="404.5" y="1224.5" width="299" height="300"/></clipPath>
<g clip-path="url(#cB22)">
<circle cx="431.53" cy="1414.97" r="1.35"/>
<circle cx="448.61" cy="1419.58" r="1.35"/>
<circle cx="560.98" cy="1385.67" r="1.35"/>
<circle cx="497.99" cy="1443.81" r="1.35"/>
<circle cx="468.91" cy="1443.81" r="1.35"/>
<circle cx="522.44" cy="1446.35" r="1.35"/>
<circle cx="522.44" cy="1452.12" r="1.35"/>
<circle cx="465.45" cy="1455.58" r="1.35"/>
<circle cx="496.6" cy="1455.58" r="1.35"/>
<circle cx="507.21" cy="1455.58" r="1.35"/>
<circle cx="610.35" cy="1455.58" r="1.35"/>
<circle cx="431.53" cy="1461.58" r="1.35"/>
<circle cx="464.76" cy="1463.42" r="1.35"/>
<circle cx="421.38" cy="1467.12" r="1.35"/>
<circle cx="564.21" cy="1473.11" r="1.35"/>
<circle cx="464.76" cy="1478.42" r="1.35"/>
<circle cx="436.61" cy="1490.42" r="1.35"/>
<circle cx="438.92" cy="1490.42" r="1.35"/>
<circle cx="447.45" cy="1490.42" r="1.35"/>
<circle cx="465.45" cy="1490.42" r="1.35"/>
<circle cx="564.21" cy="1490.42" r="1.35"/>
<circle cx="611.97" cy="1491.57" r="1.35"/>
<circle cx="436.15" cy="1501.73" r="1.35"/>
<circle cx="441.22" cy="1501.73" r="1.35"/>
<circle cx="483.91" cy="1501.73" r="1.35"/>
<circle cx="416.77" cy="1507.96" r="1.35"/>
<circle cx="414.92" cy="1513.72" r="1.35"/>
<circle cx="417.23" cy="1513.72" r="1.35"/>
<circle cx="421.38" cy="1513.72" r="1.35"/>
<circle cx="448.61" cy="1513.72" r="1.35"/>
<circle cx="453.92" cy="1513.72" r="1.35"/>
<circle cx="461.53" cy="1513.72" r="1.35"/>
<circle cx="588.89" cy="1513.72" r="1.35"/>
<circle cx="610.35" cy="1513.72" r="1.35"/>
<circle cx="612.66" cy="1513.72" r="1.35"/>
<circle cx="653.04" cy="1513.72" r="1.35"/>
<circle cx="655.81" cy="1513.72" r="1.35"/>
<circle cx="668.04" cy="1513.72" r="1.35"/>
<circle cx="688.11" cy="1513.72" r="1.35"/>
<circle cx="692.26" cy="1513.72" r="1.35"/>
<polygon points="415.84,1489.5 430.15,1469.19 444.69,1436.89 458.99,1388.44 473.53,1326.14 488.06,1268.45 503.06,1235.69 517.37,1238.46 532.36,1275.38 546.9,1328.44 561.21,1381.51 575.74,1434.58 590.05,1469.19 605.05,1491.11 619.58,1502.65 633.89,1508.88 648.89,1512.34 692.26,1513.72 692.26,1513.72 633.89,1512.57 619.58,1510.72 605.05,1506.11 590.05,1495.73 575.74,1477.27 561.21,1458.81 546.9,1440.35 532.36,1425.35 517.37,1414.97 503.06,1412.66 488.06,1420.74 473.53,1436.89 458.99,1456.5 444.69,1476.11 430.15,1494.11 415.84,1503.34" fill="#FFFF99" stroke="none"/>
<polyline points="415.84,1498.5 430.15,1483.5 444.69,1461.12 458.99,1429.97 473.53,1395.82 488.06,1365.82 503.06,1349.21 517.37,1350.6 532.36,1369.28 546.9,1398.82 561.21,1431.81 575.74,1464.12 590.05,1485.34 605.05,1499.88 619.58,1507.49 633.89,1511.19 648.89,1513.03 692.26,1513.72" fill="none" stroke="#000" stroke-width="1.0" stroke-linejoin="round"/>
</g>
<clipPath id="cB23"><rect x="712.5" y="1224.5" width="299" height="300"/></clipPath>
<g clip-path="url(#cB23)">
<circle cx="723.38" cy="1389.59" r="1.35"/>
<circle cx="723.38" cy="1445.66" r="1.35"/>
<circle cx="723.38" cy="1457.19" r="1.35"/>
<circle cx="760.76" cy="1457.19" r="1.35"/>
<circle cx="882.59" cy="1447.96" r="1.35"/>
<circle cx="882.59" cy="1453.73" r="1.35"/>
<circle cx="882.59" cy="1462.73" r="1.35"/>
<circle cx="882.59" cy="1464.58" r="1.35"/>
<circle cx="882.59" cy="1468.5" r="1.35"/>
<circle cx="919.51" cy="1468.5" r="1.35"/>
<circle cx="882.59" cy="1479.11" r="1.35"/>
<circle cx="919.51" cy="1479.81" r="1.35"/>
<circle cx="1000.26" cy="1445.66" r="1.35"/>
<circle cx="1000.26" cy="1457.19" r="1.35"/>
<circle cx="1000.26" cy="1474.04" r="1.35"/>
<circle cx="723.38" cy="1491.11" r="1.35"/>
<circle cx="760.76" cy="1492.27" r="1.35"/>
<circle cx="760.76" cy="1496.42" r="1.35"/>
<circle cx="919.51" cy="1491.11" r="1.35"/>
<circle cx="1000.26" cy="1491.11" r="1.35"/>
<circle cx="723.38" cy="1502.19" r="1.35"/>
<circle cx="882.59" cy="1499.88" r="1.35"/>
<circle cx="882.59" cy="1501.5" r="1.35"/>
<circle cx="1000.26" cy="1502.19" r="1.35"/>
<circle cx="760.76" cy="1507.96" r="1.35"/>
<circle cx="723.38" cy="1513.72" r="1.35"/>
<circle cx="882.59" cy="1513.72" r="1.35"/>
<circle cx="919.51" cy="1513.72" r="1.35"/>
<circle cx="1000.26" cy="1513.72" r="1.35"/>
<polygon points="723.38,1372.28 737.69,1360.75 752.69,1344.6 767.68,1326.14 781.53,1309.99 796.53,1289.22 810.37,1269.61 825.37,1255.76 840.36,1243.07 855.36,1236.61 869.21,1236.15 884.2,1242.38 898.05,1248.38 913.05,1254.61 926.89,1266.15 941.89,1282.3 956.89,1296.14 970.73,1306.53 985.73,1320.37 1000.26,1333.06 1000.26,1459.96 985.73,1451.43 970.73,1443.81 956.89,1436.89 941.89,1429.97 926.89,1425.35 913.05,1421.2 898.05,1417.97 884.2,1416.59 869.21,1416.12 855.36,1415.66 840.36,1415.66 825.37,1416.59 810.37,1417.97 796.53,1420.28 781.53,1424.2 767.68,1428.81 752.69,1434.58 737.69,1441.04 723.38,1448.43" fill="#FFFF99" stroke="none"/>
<polyline points="723.38,1417.74 737.69,1408.05 752.69,1397.66 767.68,1387.28 781.53,1378.05 796.53,1368.82 810.37,1361.9 825.37,1356.13 840.36,1352.67 855.36,1351.06 869.21,1351.06 884.2,1353.36 898.05,1357.29 913.05,1362.59 926.89,1368.82 941.89,1376.9 956.89,1386.59 970.73,1396.05 985.73,1405.97 1000.26,1416.59" fill="none" stroke="#000" stroke-width="1.0" stroke-linejoin="round"/>
</g>
<clipPath id="cB24"><rect x="1020.5" y="1224.5" width="298.5" height="300"/></clipPath>
<g clip-path="url(#cB24)">
<circle cx="1127.75" cy="1486.96" r="1.35"/>
<circle cx="1132.37" cy="1486.96" r="1.35"/>
<circle cx="1130.06" cy="1494.11" r="1.35"/>
<circle cx="1131.91" cy="1494.11" r="1.35"/>
<circle cx="1121.52" cy="1494.11" r="1.35"/>
<circle cx="1105.83" cy="1497.34" r="1.35"/>
<circle cx="1112.06" cy="1497.34" r="1.35"/>
<circle cx="1158.67" cy="1497.34" r="1.35"/>
<circle cx="1168.59" cy="1495.03" r="1.35"/>
<circle cx="1168.59" cy="1496.42" r="1.35"/>
<circle cx="1199.74" cy="1497.34" r="1.35"/>
<circle cx="1203.89" cy="1501.96" r="1.35"/>
<circle cx="1133.52" cy="1499.88" r="1.35"/>
<circle cx="1135.14" cy="1500.8" r="1.35"/>
<circle cx="1134.21" cy="1503.8" r="1.35"/>
<circle cx="1142.06" cy="1503.8" r="1.35"/>
<circle cx="1092.22" cy="1507.03" r="1.35"/>
<circle cx="1132.37" cy="1507.03" r="1.35"/>
<circle cx="1135.14" cy="1507.03" r="1.35"/>
<circle cx="1140.67" cy="1507.03" r="1.35"/>
<circle cx="1143.44" cy="1507.03" r="1.35"/>
<circle cx="1148.52" cy="1507.03" r="1.35"/>
<circle cx="1225.81" cy="1507.49" r="1.35"/>
<circle cx="1228.58" cy="1509.34" r="1.35"/>
<circle cx="1132.37" cy="1510.26" r="1.35"/>
<circle cx="1143.44" cy="1510.26" r="1.35"/>
<circle cx="1117.37" cy="1510.26" r="1.35"/>
<circle cx="1058.53" cy="1513.72" r="1.35"/>
<circle cx="1084.37" cy="1513.72" r="1.35"/>
<circle cx="1121.52" cy="1513.72" r="1.35"/>
<circle cx="1136.98" cy="1513.03" r="1.35"/>
<circle cx="1136.98" cy="1514.42" r="1.35"/>
<circle cx="1142.75" cy="1513.72" r="1.35"/>
<circle cx="1161.21" cy="1513.72" r="1.35"/>
<circle cx="1163.75" cy="1513.72" r="1.35"/>
<circle cx="1174.36" cy="1513.72" r="1.35"/>
<circle cx="1228.58" cy="1513.72" r="1.35"/>
<circle cx="1274.96" cy="1513.72" r="1.35"/>
<circle cx="1277.27" cy="1513.72" r="1.35"/>
<circle cx="1283.04" cy="1513.72" r="1.35"/>
<circle cx="1308.19" cy="1513.72" r="1.35"/>
<polygon points="1031.31,1462.27 1100.06,1446.12 1169.28,1417.97 1238.5,1350.36 1307.72,1236.15 1307.72,1475.42 1238.5,1477.27 1169.28,1481.88 1100.06,1488.8 1031.31,1498.03" fill="#FFFF99" stroke="none"/>
<polyline points="1031.31,1485.34 1100.06,1473.81 1169.28,1459.96 1238.5,1445.66 1307.72,1429.97" fill="none" stroke="#000" stroke-width="1.0" stroke-linejoin="round"/>
</g>
<rect x="106.5" y="27.5" width="402" height="247" fill="none" stroke="#808080" stroke-width="1"/>
<rect x="512" y="27.5" width="401.5" height="247" fill="none" stroke="#808080" stroke-width="1"/>
<rect x="917.5" y="27.5" width="401" height="247" fill="none" stroke="#808080" stroke-width="1"/>
<rect x="106.5" y="293.5" width="402" height="247" fill="none" stroke="#808080" stroke-width="1"/>
<rect x="512" y="293.5" width="401.5" height="247" fill="none" stroke="#808080" stroke-width="1"/>
<rect x="917.5" y="293.5" width="401" height="247" fill="none" stroke="#808080" stroke-width="1"/>
<rect x="106.5" y="559" width="402" height="246.5" fill="none" stroke="#808080" stroke-width="1"/>
<rect x="512" y="559" width="401.5" height="246.5" fill="none" stroke="#808080" stroke-width="1"/>
<rect x="917.5" y="559" width="401" height="246.5" fill="none" stroke="#808080" stroke-width="1"/>
<rect x="97" y="910" width="298.5" height="300" fill="none" stroke="#808080" stroke-width="1"/>
<rect x="404.5" y="910" width="299" height="300" fill="none" stroke="#808080" stroke-width="1"/>
<rect x="712.5" y="910" width="299" height="300" fill="none" stroke="#808080" stroke-width="1"/>
<rect x="1020.5" y="910" width="298.5" height="300" fill="none" stroke="#808080" stroke-width="1"/>
<rect x="97" y="1224.5" width="298.5" height="300" fill="none" stroke="#808080" stroke-width="1"/>
<rect x="404.5" y="1224.5" width="299" height="300" fill="none" stroke="#808080" stroke-width="1"/>
<rect x="712.5" y="1224.5" width="299" height="300" fill="none" stroke="#808080" stroke-width="1"/>
<rect x="1020.5" y="1224.5" width="298.5" height="300" fill="none" stroke="#808080" stroke-width="1"/>
<line x1="166.4" y1="805.5" x2="166.4" y2="809.7" stroke="#808080" stroke-width="1"/>
<text transform="translate(166.4,826.6) scale(1,1.06)" text-anchor="middle" font-size="16.3">500</text>
<line x1="248.05" y1="805.5" x2="248.05" y2="809.7" stroke="#808080" stroke-width="1"/>
<text id="one0" transform="translate(248.05,826.6) scale(1,1.06)" text-anchor="middle" font-size="16.3">&#8199;000</text>
<line x1="329.7" y1="805.5" x2="329.7" y2="809.7" stroke="#808080" stroke-width="1"/>
<text id="one1" transform="translate(329.7,826.6) scale(1,1.06)" text-anchor="middle" font-size="16.3">&#8199;500</text>
<line x1="411.35" y1="805.5" x2="411.35" y2="809.7" stroke="#808080" stroke-width="1"/>
<text transform="translate(411.35,826.6) scale(1,1.06)" text-anchor="middle" font-size="16.3">2000</text>
<line x1="493" y1="805.5" x2="493" y2="809.7" stroke="#808080" stroke-width="1"/>
<text transform="translate(493,826.6) scale(1,1.06)" text-anchor="middle" font-size="16.3">2500</text>
<text transform="translate(307.5,849)" text-anchor="middle" font-size="19">Depth (m)</text>
<line x1="597.9" y1="805.5" x2="597.9" y2="809.7" stroke="#808080" stroke-width="1"/>
<text transform="translate(597.9,826.6) scale(1,1.06)" text-anchor="middle" font-size="16.3">0</text>
<line x1="695.1" y1="805.5" x2="695.1" y2="809.7" stroke="#808080" stroke-width="1"/>
<text id="one2" transform="translate(695.1,826.6) scale(1,1.06)" text-anchor="middle" font-size="16.3">&#8199;</text>
<line x1="792.3" y1="805.5" x2="792.3" y2="809.7" stroke="#808080" stroke-width="1"/>
<text transform="translate(792.3,826.6) scale(1,1.06)" text-anchor="middle" font-size="16.3">2</text>
<line x1="889.5" y1="805.5" x2="889.5" y2="809.7" stroke="#808080" stroke-width="1"/>
<text transform="translate(889.5,826.6) scale(1,1.06)" text-anchor="middle" font-size="16.3">3</text>
<text transform="translate(712.75,849)" text-anchor="middle" font-size="19">Temperature (&#176;C)</text>
<line x1="930.3" y1="805.5" x2="930.3" y2="809.7" stroke="#808080" stroke-width="1"/>
<text transform="translate(930.3,826.6) scale(1,1.06)" text-anchor="middle" font-size="16.3">0</text>
<line x1="1003.4" y1="805.5" x2="1003.4" y2="809.7" stroke="#808080" stroke-width="1"/>
<text id="one3" transform="translate(1003.4,826.6) scale(1,1.06)" text-anchor="middle" font-size="16.3">&#8199;0</text>
<line x1="1076.5" y1="805.5" x2="1076.5" y2="809.7" stroke="#808080" stroke-width="1"/>
<text transform="translate(1076.5,826.6) scale(1,1.06)" text-anchor="middle" font-size="16.3">20</text>
<line x1="1149.6" y1="805.5" x2="1149.6" y2="809.7" stroke="#808080" stroke-width="1"/>
<text transform="translate(1149.6,826.6) scale(1,1.06)" text-anchor="middle" font-size="16.3">30</text>
<line x1="1222.7" y1="805.5" x2="1222.7" y2="809.7" stroke="#808080" stroke-width="1"/>
<text transform="translate(1222.7,826.6) scale(1,1.06)" text-anchor="middle" font-size="16.3">40</text>
<line x1="1295.8" y1="805.5" x2="1295.8" y2="809.7" stroke="#808080" stroke-width="1"/>
<text transform="translate(1295.8,826.6) scale(1,1.06)" text-anchor="middle" font-size="16.3">50</text>
<text transform="translate(1118,849)" text-anchor="middle" font-size="19">Sea ice (%)</text>
<line x1="102.3" y1="265.4" x2="106.5" y2="265.4" stroke="#808080" stroke-width="1"/>
<text transform="translate(89.7,265.4) rotate(-90)" text-anchor="middle" font-size="16.4">0</text>
<line x1="102.3" y1="228.15" x2="106.5" y2="228.15" stroke="#808080" stroke-width="1"/>
<text transform="translate(89.7,228.15) rotate(-90)" text-anchor="middle" font-size="16.4">200</text>
<line x1="102.3" y1="190.9" x2="106.5" y2="190.9" stroke="#808080" stroke-width="1"/>
<line x1="102.3" y1="153.65" x2="106.5" y2="153.65" stroke="#808080" stroke-width="1"/>
<text transform="translate(89.7,153.65) rotate(-90)" text-anchor="middle" font-size="16.4">600</text>
<line x1="102.3" y1="116.4" x2="106.5" y2="116.4" stroke="#808080" stroke-width="1"/>
<line x1="102.3" y1="79.15" x2="106.5" y2="79.15" stroke="#808080" stroke-width="1"/>
<text id="one4" transform="translate(89.7,79.15) rotate(-90)" text-anchor="middle" font-size="16.4">&#8199;000</text>
<line x1="102.3" y1="41.9" x2="106.5" y2="41.9" stroke="#808080" stroke-width="1"/>
<text transform="translate(36.9,151) rotate(-90)" text-anchor="middle" font-size="19" font-style="italic">Aglantha digitale</text>
<text id="one5" transform="translate(64.0,148.5) rotate(-90)" text-anchor="middle" font-size="19">(ind. per &#8199;000 m<tspan font-size="13.2" dy="-8.6">3</tspan><tspan dy="8.6">)</tspan></text>
<line x1="102.3" y1="530.7" x2="106.5" y2="530.7" stroke="#808080" stroke-width="1"/>
<text transform="translate(89.7,530.7) rotate(-90)" text-anchor="middle" font-size="16.4">0</text>
<line x1="102.3" y1="486.38" x2="106.5" y2="486.38" stroke="#808080" stroke-width="1"/>
<text id="one6" transform="translate(89.7,486.38) rotate(-90)" text-anchor="middle" font-size="16.4">&#8199;00</text>
<line x1="102.3" y1="442.06" x2="106.5" y2="442.06" stroke="#808080" stroke-width="1"/>
<text transform="translate(89.7,442.06) rotate(-90)" text-anchor="middle" font-size="16.4">200</text>
<line x1="102.3" y1="397.74" x2="106.5" y2="397.74" stroke="#808080" stroke-width="1"/>
<text transform="translate(89.7,397.74) rotate(-90)" text-anchor="middle" font-size="16.4">300</text>
<line x1="102.3" y1="353.42" x2="106.5" y2="353.42" stroke="#808080" stroke-width="1"/>
<text transform="translate(89.7,353.42) rotate(-90)" text-anchor="middle" font-size="16.4">400</text>
<line x1="102.3" y1="309.1" x2="106.5" y2="309.1" stroke="#808080" stroke-width="1"/>
<text transform="translate(89.7,309.1) rotate(-90)" text-anchor="middle" font-size="16.4">500</text>
<text transform="translate(36.9,417) rotate(-90)" text-anchor="middle" font-size="19" font-style="italic">Sminthea arctica</text>
<text id="one7" transform="translate(64.0,414.5) rotate(-90)" text-anchor="middle" font-size="19">(ind. per &#8199;000 m<tspan font-size="13.2" dy="-8.6">3</tspan><tspan dy="8.6">)</tspan></text>
<line x1="102.3" y1="796.4" x2="106.5" y2="796.4" stroke="#808080" stroke-width="1"/>
<text transform="translate(89.7,796.4) rotate(-90)" text-anchor="middle" font-size="16.4">0</text>
<line x1="102.3" y1="754.84" x2="106.5" y2="754.84" stroke="#808080" stroke-width="1"/>
<text transform="translate(89.7,754.84) rotate(-90)" text-anchor="middle" font-size="16.4">20</text>
<line x1="102.3" y1="713.28" x2="106.5" y2="713.28" stroke="#808080" stroke-width="1"/>
<text transform="translate(89.7,713.28) rotate(-90)" text-anchor="middle" font-size="16.4">40</text>
<line x1="102.3" y1="671.72" x2="106.5" y2="671.72" stroke="#808080" stroke-width="1"/>
<text transform="translate(89.7,671.72) rotate(-90)" text-anchor="middle" font-size="16.4">60</text>
<line x1="102.3" y1="630.16" x2="106.5" y2="630.16" stroke="#808080" stroke-width="1"/>
<text transform="translate(89.7,630.16) rotate(-90)" text-anchor="middle" font-size="16.4">80</text>
<line x1="102.3" y1="588.6" x2="106.5" y2="588.6" stroke="#808080" stroke-width="1"/>
<text id="one8" transform="translate(89.7,588.6) rotate(-90)" text-anchor="middle" font-size="16.4">&#8199;00</text>
<text transform="translate(36.9,682.25) rotate(-90)" text-anchor="middle" font-size="19"><tspan font-style="italic">Crossota</tspan> sp.</text>
<text id="one9" transform="translate(64.0,679.75) rotate(-90)" text-anchor="middle" font-size="19">(ind. per &#8199;000 m<tspan font-size="13.2" dy="-8.6">3</tspan><tspan dy="8.6">)</tspan></text>
<line x1="141.3" y1="1524.5" x2="141.3" y2="1528.2" stroke="#808080" stroke-width="1"/>
<text transform="translate(141.3,1541.6) scale(1,1.07)" text-anchor="middle" font-size="14.65">500</text>
<line x1="202.1" y1="1524.5" x2="202.1" y2="1528.2" stroke="#808080" stroke-width="1"/>
<text id="one10" transform="translate(202.1,1541.6) scale(1,1.07)" text-anchor="middle" font-size="14.65">&#8199;000</text>
<line x1="262.9" y1="1524.5" x2="262.9" y2="1528.2" stroke="#808080" stroke-width="1"/>
<text id="one11" transform="translate(262.9,1541.6) scale(1,1.07)" text-anchor="middle" font-size="14.65">&#8199;500</text>
<line x1="323.7" y1="1524.5" x2="323.7" y2="1528.2" stroke="#808080" stroke-width="1"/>
<text transform="translate(323.7,1541.6) scale(1,1.07)" text-anchor="middle" font-size="14.65">2000</text>
<line x1="384.5" y1="1524.5" x2="384.5" y2="1528.2" stroke="#808080" stroke-width="1"/>
<text transform="translate(384.5,1541.6) scale(1,1.07)" text-anchor="middle" font-size="14.65">2500</text>
<text transform="translate(246.25,1559)" text-anchor="middle" font-size="18">Depth (m)</text>
<line x1="468.3" y1="1524.5" x2="468.3" y2="1528.2" stroke="#808080" stroke-width="1"/>
<text transform="translate(468.3,1541.6) scale(1,1.07)" text-anchor="middle" font-size="14.65">0</text>
<line x1="540.6" y1="1524.5" x2="540.6" y2="1528.2" stroke="#808080" stroke-width="1"/>
<text id="one12" transform="translate(540.6,1541.6) scale(1,1.07)" text-anchor="middle" font-size="14.65">&#8199;</text>
<line x1="612.9" y1="1524.5" x2="612.9" y2="1528.2" stroke="#808080" stroke-width="1"/>
<text transform="translate(612.9,1541.6) scale(1,1.07)" text-anchor="middle" font-size="14.65">2</text>
<line x1="685.2" y1="1524.5" x2="685.2" y2="1528.2" stroke="#808080" stroke-width="1"/>
<text transform="translate(685.2,1541.6) scale(1,1.07)" text-anchor="middle" font-size="14.65">3</text>
<text transform="translate(554,1559)" text-anchor="middle" font-size="18">Temperature (&#176;C)</text>
<line x1="722.3" y1="1524.5" x2="722.3" y2="1528.2" stroke="#808080" stroke-width="1"/>
<text transform="translate(722.3,1541.6) scale(1,1.07)" text-anchor="middle" font-size="14.65">0</text>
<line x1="776.6" y1="1524.5" x2="776.6" y2="1528.2" stroke="#808080" stroke-width="1"/>
<text id="one13" transform="translate(776.6,1541.6) scale(1,1.07)" text-anchor="middle" font-size="14.65">&#8199;0</text>
<line x1="830.9" y1="1524.5" x2="830.9" y2="1528.2" stroke="#808080" stroke-width="1"/>
<text transform="translate(830.9,1541.6) scale(1,1.07)" text-anchor="middle" font-size="14.65">20</text>
<line x1="885.2" y1="1524.5" x2="885.2" y2="1528.2" stroke="#808080" stroke-width="1"/>
<text transform="translate(885.2,1541.6) scale(1,1.07)" text-anchor="middle" font-size="14.65">30</text>
<line x1="939.5" y1="1524.5" x2="939.5" y2="1528.2" stroke="#808080" stroke-width="1"/>
<text transform="translate(939.5,1541.6) scale(1,1.07)" text-anchor="middle" font-size="14.65">40</text>
<line x1="993.8" y1="1524.5" x2="993.8" y2="1528.2" stroke="#808080" stroke-width="1"/>
<text transform="translate(993.8,1541.6) scale(1,1.07)" text-anchor="middle" font-size="14.65">50</text>
<text transform="translate(862,1559)" text-anchor="middle" font-size="18">Sea ice (%)</text>
<line x1="1023.3" y1="1524.5" x2="1023.3" y2="1528.2" stroke="#808080" stroke-width="1"/>
<text transform="translate(1023.3,1541.6) scale(1,1.07)" text-anchor="middle" font-size="14.65">34.86</text>
<line x1="1070" y1="1524.5" x2="1070" y2="1528.2" stroke="#808080" stroke-width="1"/>
<line x1="1116.7" y1="1524.5" x2="1116.7" y2="1528.2" stroke="#808080" stroke-width="1"/>
<text transform="translate(1116.7,1541.6) scale(1,1.07)" text-anchor="middle" font-size="14.65">34.90</text>
<line x1="1163.4" y1="1524.5" x2="1163.4" y2="1528.2" stroke="#808080" stroke-width="1"/>
<line x1="1210.1" y1="1524.5" x2="1210.1" y2="1528.2" stroke="#808080" stroke-width="1"/>
<text transform="translate(1210.1,1541.6) scale(1,1.07)" text-anchor="middle" font-size="14.65">34.94</text>
<line x1="1256.8" y1="1524.5" x2="1256.8" y2="1528.2" stroke="#808080" stroke-width="1"/>
<line x1="1303.5" y1="1524.5" x2="1303.5" y2="1528.2" stroke="#808080" stroke-width="1"/>
<text transform="translate(1303.5,1541.6) scale(1,1.07)" text-anchor="middle" font-size="14.65">34.98</text>
<text transform="translate(1169.75,1559)" text-anchor="middle" font-size="18">Salinity (PSU)</text>
<line x1="93.3" y1="1198.7" x2="97" y2="1198.7" stroke="#808080" stroke-width="1"/>
<text transform="translate(83.7,1198.7) rotate(-90) scale(1,1.07)" text-anchor="middle" font-size="15.2">0</text>
<line x1="93.3" y1="1125.53" x2="97" y2="1125.53" stroke="#808080" stroke-width="1"/>
<text id="one14" transform="translate(83.7,1125.53) rotate(-90) scale(1,1.07)" text-anchor="middle" font-size="15.2">&#8199;00</text>
<line x1="93.3" y1="1052.36" x2="97" y2="1052.36" stroke="#808080" stroke-width="1"/>
<text transform="translate(83.7,1052.36) rotate(-90) scale(1,1.07)" text-anchor="middle" font-size="15.2">200</text>
<line x1="93.3" y1="979.19" x2="97" y2="979.19" stroke="#808080" stroke-width="1"/>
<text transform="translate(83.7,979.19) rotate(-90) scale(1,1.07)" text-anchor="middle" font-size="15.2">300</text>
<text transform="translate(38,1060) rotate(-90)" text-anchor="middle" font-size="18">Calycophorae spp.</text>
<text id="one15" transform="translate(62.8,1057.5) rotate(-90)" text-anchor="middle" font-size="18">(ind. per &#8199;000 m<tspan font-size="12.5" dy="-8">3</tspan><tspan dy="8">)</tspan></text>
<line x1="93.3" y1="1513.4" x2="97" y2="1513.4" stroke="#808080" stroke-width="1"/>
<text transform="translate(83.7,1513.4) rotate(-90) scale(1,1.07)" text-anchor="middle" font-size="15.2">0</text>
<line x1="93.3" y1="1457.81" x2="97" y2="1457.81" stroke="#808080" stroke-width="1"/>
<text transform="translate(83.7,1457.81) rotate(-90) scale(1,1.07)" text-anchor="middle" font-size="15.2">50</text>
<line x1="93.3" y1="1402.22" x2="97" y2="1402.22" stroke="#808080" stroke-width="1"/>
<text id="one16" transform="translate(83.7,1402.22) rotate(-90) scale(1,1.07)" text-anchor="middle" font-size="15.2">&#8199;00</text>
<line x1="93.3" y1="1346.63" x2="97" y2="1346.63" stroke="#808080" stroke-width="1"/>
<text id="one17" transform="translate(83.7,1346.63) rotate(-90) scale(1,1.07)" text-anchor="middle" font-size="15.2">&#8199;50</text>
<line x1="93.3" y1="1291.04" x2="97" y2="1291.04" stroke="#808080" stroke-width="1"/>
<text transform="translate(83.7,1291.04) rotate(-90) scale(1,1.07)" text-anchor="middle" font-size="15.2">200</text>
<line x1="93.3" y1="1235.45" x2="97" y2="1235.45" stroke="#808080" stroke-width="1"/>
<text transform="translate(83.7,1235.45) rotate(-90) scale(1,1.07)" text-anchor="middle" font-size="15.2">250</text>
<text transform="translate(38,1374.5) rotate(-90)" text-anchor="middle" font-size="18">Physonectae spp.</text>
<text id="one18" transform="translate(62.8,1372) rotate(-90)" text-anchor="middle" font-size="18">(ind. per &#8199;000 m<tspan font-size="12.5" dy="-8">3</tspan><tspan dy="8">)</tspan></text>
<text x="-0.4" y="24.05" font-size="30.3" font-weight="bold">A</text>
<text x="0" y="896.9" font-size="30.3" font-weight="bold">B</text>
<path transform="translate(248.05,826.6) scale(1,1.06) translate(-18.117,0.000) scale(0.007959,-0.007618)" d="M763 0L583 0L583 1147Q518 1085 412 1023Q306 961 222 930L222 1104Q373 1175 486 1276Q599 1377 646 1472L763 1472Z"/>
<path transform="translate(329.7,826.6) scale(1,1.06) translate(-18.117,0.000) scale(0.007959,-0.007618)" d="M763 0L583 0L583 1147Q518 1085 412 1023Q306 961 222 930L222 1104Q373 1175 486 1276Q599 1377 646 1472L763 1472Z"/>
<path transform="translate(695.1,826.6) scale(1,1.06) translate(-4.531,0.000) scale(0.007959,-0.007618)" d="M763 0L583 0L583 1147Q518 1085 412 1023Q306 961 222 930L222 1104Q373 1175 486 1276Q599 1377 646 1472L763 1472Z"/>
<path transform="translate(1003.4,826.6) scale(1,1.06) translate(-9.062,0.000) scale(0.007959,-0.007618)" d="M763 0L583 0L583 1147Q518 1085 412 1023Q306 961 222 930L222 1104Q373 1175 486 1276Q599 1377 646 1472L763 1472Z"/>
<path transform="translate(89.7,79.15) rotate(-90) translate(-18.234,0.000) scale(0.008008,-0.007665)" d="M763 0L583 0L583 1147Q518 1085 412 1023Q306 961 222 930L222 1104Q373 1175 486 1276Q599 1377 646 1472L763 1472Z"/>
<path transform="translate(64.0,148.5) rotate(-90) translate(-1.047,0.000) scale(0.009277,-0.008880)" d="M763 0L583 0L583 1147Q518 1085 412 1023Q306 961 222 930L222 1104Q373 1175 486 1276Q599 1377 646 1472L763 1472Z"/>
<path transform="translate(89.7,486.38) rotate(-90) translate(-13.680,0.000) scale(0.008008,-0.007665)" d="M763 0L583 0L583 1147Q518 1085 412 1023Q306 961 222 930L222 1104Q373 1175 486 1276Q599 1377 646 1472L763 1472Z"/>
<path transform="translate(64.0,414.5) rotate(-90) translate(-1.047,0.000) scale(0.009277,-0.008880)" d="M763 0L583 0L583 1147Q518 1085 412 1023Q306 961 222 930L222 1104Q373 1175 486 1276Q599 1377 646 1472L763 1472Z"/>
<path transform="translate(89.7,588.6) rotate(-90) translate(-13.680,0.000) scale(0.008008,-0.007665)" d="M763 0L583 0L583 1147Q518 1085 412 1023Q306 961 222 930L222 1104Q373 1175 486 1276Q599 1377 646 1472L763 1472Z"/>
<path transform="translate(64.0,679.75) rotate(-90) translate(-1.047,0.000) scale(0.009277,-0.008880)" d="M763 0L583 0L583 1147Q518 1085 412 1023Q306 961 222 930L222 1104Q373 1175 486 1276Q599 1377 646 1472L763 1472Z"/>
<path transform="translate(202.1,1541.6) scale(1,1.07) translate(-16.289,0.000) scale(0.007153,-0.006847)" d="M763 0L583 0L583 1147Q518 1085 412 1023Q306 961 222 930L222 1104Q373 1175 486 1276Q599 1377 646 1472L763 1472Z"/>
<path transform="translate(262.9,1541.6) scale(1,1.07) translate(-16.289,0.000) scale(0.007153,-0.006847)" d="M763 0L583 0L583 1147Q518 1085 412 1023Q306 961 222 930L222 1104Q373 1175 486 1276Q599 1377 646 1472L763 1472Z"/>
<path transform="translate(540.6,1541.6) scale(1,1.07) translate(-4.078,0.000) scale(0.007153,-0.006847)" d="M763 0L583 0L583 1147Q518 1085 412 1023Q306 961 222 930L222 1104Q373 1175 486 1276Q599 1377 646 1472L763 1472Z"/>
<path transform="translate(776.6,1541.6) scale(1,1.07) translate(-8.148,0.000) scale(0.007153,-0.006847)" d="M763 0L583 0L583 1147Q518 1085 412 1023Q306 961 222 930L222 1104Q373 1175 486 1276Q599 1377 646 1472L763 1472Z"/>
<path transform="translate(83.7,1125.53) rotate(-90) scale(1,1.07) translate(-12.672,0.000) scale(0.007422,-0.007104)" d="M763 0L583 0L583 1147Q518 1085 412 1023Q306 961 222 930L222 1104Q373 1175 486 1276Q599 1377 646 1472L763 1472Z"/>
<path transform="translate(62.8,1057.5) rotate(-90) translate(-0.984,0.000) scale(0.008789,-0.008413)" d="M763 0L583 0L583 1147Q518 1085 412 1023Q306 961 222 930L222 1104Q373 1175 486 1276Q599 1377 646 1472L763 1472Z"/>
<path transform="translate(83.7,1402.22) rotate(-90) scale(1,1.07) translate(-12.672,0.000) scale(0.007422,-0.007104)" d="M763 0L583 0L583 1147Q518 1085 412 1023Q306 961 222 930L222 1104Q373 1175 486 1276Q599 1377 646 1472L763 1472Z"/>
<path transform="translate(83.7,1346.63) rotate(-90) scale(1,1.07) translate(-12.672,0.000) scale(0.007422,-0.007104)" d="M763 0L583 0L583 1147Q518 1085 412 1023Q306 961 222 930L222 1104Q373 1175 486 1276Q599 1377 646 1472L763 1472Z"/>
<path transform="translate(62.8,1372) rotate(-90) translate(-0.984,0.000) scale(0.008789,-0.008413)" d="M763 0L583 0L583 1147Q518 1085 412 1023Q306 961 222 930L222 1104Q373 1175 486 1276Q599 1377 646 1472L763 1472Z"/>
</svg>
</body></html>
